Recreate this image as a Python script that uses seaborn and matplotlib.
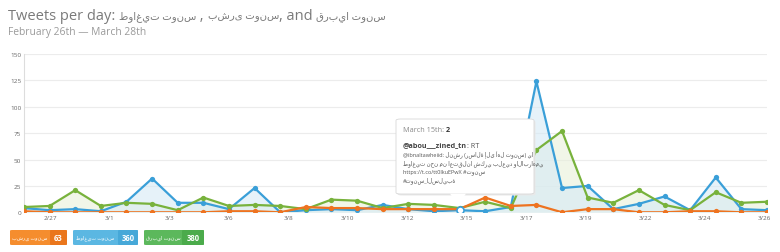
import numpy as np
import pandas as pd
import matplotlib
matplotlib.use("Agg")
import matplotlib.pyplot as plt
import seaborn as sns
from matplotlib.patches import FancyBboxPatch, Polygon

# ---- data ----
dates = ["2/26", "2/27", "2/28", "3/1", "3/2", "3/3", "3/4", "3/5", "3/6", "3/7",
         "3/8", "3/9", "3/10", "3/11", "3/12", "3/13", "3/14", "3/15", "3/16", "3/17",
         "3/18", "3/19", "3/20", "3/21", "3/22", "3/23", "3/24", "3/25", "3/26", "3/27"]
blue_vals = [4, 2, 3, 1, 10, 32, 9, 9, 3, 23, 0, 2, 3, 2, 7, 3, 1, 2, 1, 5,
             124, 23, 25, 3, 8, 15, 2, 33, 3, 2]
green_vals = [5, 6, 21, 6, 9, 8, 2, 14, 6, 7, 6, 3, 12, 11, 4, 8, 7, 4, 10, 4,
              59, 77, 14, 9, 21, 7, 2, 19, 9, 10]
orange_vals = [1, 0, 0, 0, 0, 0, 0, 0, 1, 1, 0, 5, 4, 4, 3, 3, 3, 3, 14, 6,
               7, 0, 3, 3, 0, 0, 1, 1, 0, 0]
series_names = ["بشرى تونس", "طواغيت تونس", "قربيا تونس"]
series_totals = [63, 360, 380]
tick_labels = ["2/27", "3/1", "3/3", "3/6", "3/8", "3/10", "3/12", "3/15",
               "3/17", "3/19", "3/22", "3/24", "3/26"]
yticks = [0, 25, 50, 75, 100, 125, 150]

title_parts = ["Tweets per day: ", "طواغيت تونس", " , ", "بشرى تونس", ", and ", "قربيا تونس"]
subtitle = "February 26th — March 28th"
tooltip_date = "March 15th:"
tooltip_value = "2"
tooltip_user = "@abou___zined_tn"
tooltip_lines = ["@ibnaltawheiid: لنشر (رسالة إلى أهل تونس) يا",
                 "طواغيت نحن من اعتقلنا شكري بلعيد والابراهمي",
                 "https://t.co/tt0lkuEPwX #تونس",
                 "#تونس_السليبة"]

sns.set_theme(style="white")
plt.rcParams["font.family"] = ["Open Sans", "DejaVu Sans"]

W, H = 780, 253
fig = plt.figure(figsize=(W / 100, H / 100), dpi=100)
renderer = fig.canvas.get_renderer()

def fx(px):
    return px / W

def fy(py):
    return 1 - py / H

def seq_text(x_px, y_px, pieces):
    for txt, kw in pieces:
        t = fig.text(fx(x_px), fy(y_px), txt, va="center", ha="left", **kw)
        bb = t.get_window_extent(renderer)
        x_px += bb.width
    return x_px

def is_arabic(s):
    return any("\u0600" <= ch <= "\u06ff" for ch in s)

ax = fig.add_axes([fx(24), fy(213.3), fx(767) - fx(24), fy(55) - fy(213.3)])

x = np.arange(len(dates))
df = pd.DataFrame({"x": x, "blue": blue_vals, "green": green_vals, "orange": orange_vals})

c_blue = "#3a9fd8"
c_green = "#78b23c"
c_orange = "#ee7320"

ax.fill_between(df["x"], 0, df["green"], color="#e8f0da", alpha=0.6, lw=0, zorder=1)
ax.fill_between(df["x"], 0, df["blue"], color="#d6eaf6", alpha=0.6, lw=0, zorder=1)

for col, c in [("blue", c_blue), ("green", c_green), ("orange", c_orange)]:
    sns.lineplot(data=df, x="x", y=col, ax=ax, color=c, lw=1.6, marker="o",
                 markersize=3.8, markeredgewidth=0, zorder=3)

# hovered point
ax.scatter([17], [blue_vals[17]], s=26, facecolor="white", edgecolor=c_blue,
           linewidth=1.2, zorder=5)

ax.set_xlim(0, len(dates) - 1)
ax.set_ylim(0, 150)
ax.set_yticks(yticks)
ax.set_yticklabels([str(v) for v in yticks], fontsize=4.6, color="#666666")
ax.set_xticks(np.linspace(1.02, 28.9, len(tick_labels)))
ax.set_xticklabels(tick_labels, fontsize=4.6, color="#666666")
ax.tick_params(axis="both", length=0, pad=2)
ax.set_xlabel("")
ax.set_ylabel("")
ax.grid(axis="y", color="#ececec", lw=0.8)
for s in ["top", "right", "bottom"]:
    ax.spines[s].set_visible(False)
ax.spines["left"].set_color("#dddddd")
ax.spines["left"].set_linewidth(0.8)

# titles
seq_text(8, 17, [(p, dict(fontsize=(7.3 if is_arabic(p) else 10.5), color="#7a7a7a"))
                 for p in title_parts])
fig.text(fx(8), fy(33), subtitle, fontsize=7.4, color="#9a9a9a", va="center", ha="left")

# tooltip (with faint shadow)
for off, fc, ec in [(1.5, "#e9e9e9", "none"), (0, "white", "#d8d8d8")]:
    fig.patches.append(FancyBboxPatch((fx(396 + off), fy(195 + off)), fx(534) - fx(396),
                                      fy(120) - fy(195),
                                      boxstyle="round,pad=0,rounding_size=0.006",
                                      transform=fig.transFigure, facecolor=fc,
                                      edgecolor=ec, lw=0.6, zorder=10))
tri = Polygon([(fx(450), fy(194.7)), (fx(466), fy(194.7)), (fx(458), fy(205))],
              closed=True, transform=fig.transFigure, facecolor="white",
              edgecolor="none", zorder=11)
fig.patches.append(tri)
seq_text(403, 130, [(tooltip_date + " ", dict(fontsize=5.2, color="#888888", zorder=12)),
                    (tooltip_value, dict(fontsize=5.2, color="#333333", fontweight="bold", zorder=12))])
seq_text(403, 146, [(tooltip_user, dict(fontsize=5.2, color="#444444", fontweight="bold", zorder=12)),
                    (": RT", dict(fontsize=5.2, color="#555555", zorder=12))])
for i, line in enumerate(tooltip_lines):
    fs = 4.0 if is_arabic(line) else 5.2
    fig.text(fx(403), fy(155 + i * 8.5), line, fontsize=fs, color="#555555",
             va="center", ha="left", zorder=12)

# badges
badges = [
    (10, 50, 67, "#f58d2e", "#ea761c"),
    (73, 118, 138, "#5bb7e2", "#46a8d8"),
    (144, 182, 204, "#5cb85c", "#4bab4b"),
]
for (x0, xm, x1, cl, cd), name, tot in zip(badges, series_names, series_totals):
    fig.patches.append(FancyBboxPatch((fx(x0), fy(246)), fx(x1) - fx(x0), fy(231) - fy(246),
                                      boxstyle="round,pad=0,rounding_size=0.003",
                                      transform=fig.transFigure, facecolor=cl,
                                      edgecolor="none", zorder=5))
    fig.patches.append(FancyBboxPatch((fx(xm), fy(246)), fx(x1) - fx(xm), fy(231) - fy(246),
                                      boxstyle="round,pad=0,rounding_size=0.003",
                                      transform=fig.transFigure, facecolor=cd,
                                      edgecolor="none", zorder=6))
    fig.text(fx((x0 + xm) / 2), fy(238.5), name, fontsize=3.6, color="white",
             ha="center", va="center", zorder=7)
    fig.text(fx((xm + x1) / 2), fy(238.5), str(tot), fontsize=5.5, color="white",
             fontweight="bold", ha="center", va="center", zorder=7)

fig.savefig("out.png", dpi=100, facecolor="white")
